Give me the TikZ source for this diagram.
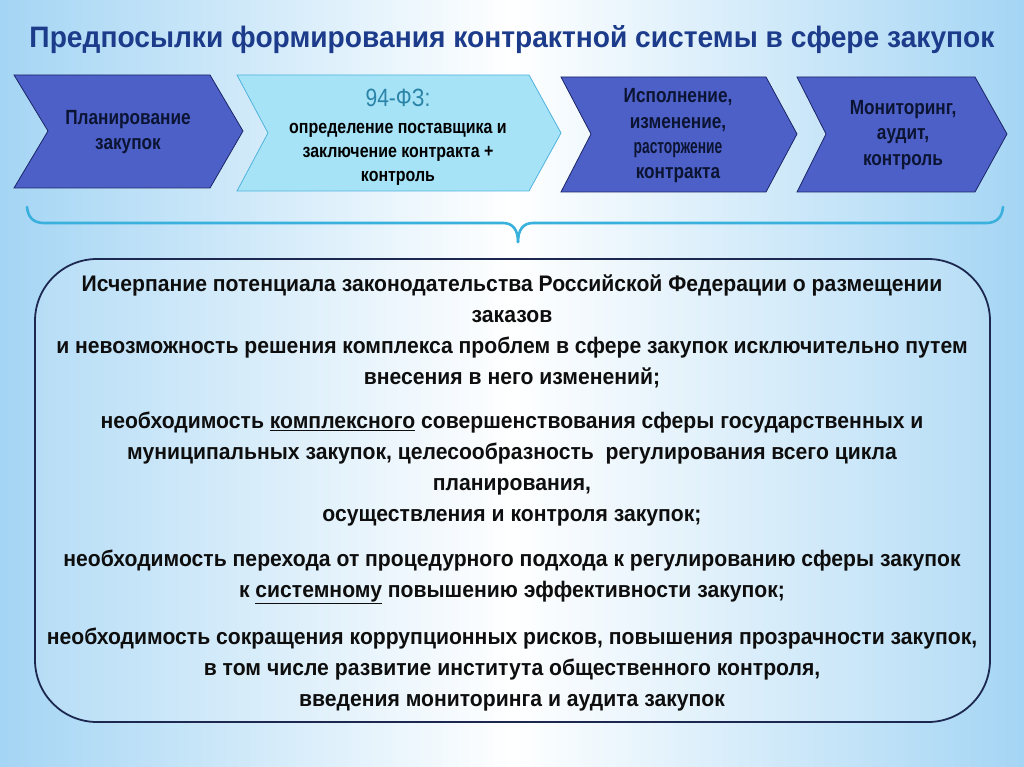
\documentclass[tikz,border=0pt]{standalone}
\usepackage{graphicx}
\usepackage{fontspec}
\setmainfont{Liberation Sans}
\newfontfamily\narrowfont{Liberation Sans}[FakeStretch=0.84]
\newfontfamily\bodyfont{Liberation Sans}[FakeStretch=0.94]
\definecolor{bgblue}{HTML}{A4D5F4}
\definecolor{titleblue}{HTML}{1C3B8B}
\definecolor{chevdark}{HTML}{4D60C7}
\definecolor{chevdarkline}{HTML}{1B2466}
\definecolor{chevlight}{HTML}{A7E3F7}
\definecolor{chevlightline}{HTML}{4FB3DD}
\definecolor{teal94}{HTML}{2A84A8}
\definecolor{navytext}{HTML}{0C1433}
\definecolor{bracecol}{HTML}{3AB0DC}
\definecolor{boxline}{HTML}{1C2850}
\definecolor{bodytext}{HTML}{0E0E0E}
\tikzset{
  darkchev/.style={fill=chevdark, draw=chevdarkline, line width=0.8pt, line join=miter},
  lightchev/.style={fill=chevlight, draw=chevlightline, line width=0.8pt, line join=miter},
  chevtext/.style={align=center, text=navytext, font=\narrowfont\bfseries\fontsize{20.5}{25.3}\selectfont, inner sep=0pt},
  lighttext/.style={align=center, text=black, font=\narrowfont\bfseries\fontsize{19}{24}\selectfont, inner sep=0pt},
  bodypara/.style={align=center, text=bodytext, font=\bodyfont\bfseries\fontsize{22.5}{31}\selectfont, inner sep=0pt},
  mainbox/.style={draw=boxline, line width=1.8pt, rounded corners=62pt, fill=white, fill opacity=0.15},
  bracepath/.style={draw=bracecol, line width=2.6pt, line cap=round, line join=round}
}
\begin{document}
\begin{tikzpicture}[x=1pt,y=-1pt]
\useasboundingbox (0,0) rectangle (1024,767);
\shade[left color=bgblue, right color=bgblue, middle color=white] (0,0) rectangle (1024,767);

% title
\node[inner sep=0pt, text=titleblue] (title) at (512,40) {\resizebox{965pt}{22pt}{\bfseries Предпосылки формирования контрактной системы в сфере закупок}};

% chevrons
\draw[darkchev] (14,75) -- (210,75) -- (243,131) -- (210,188) -- (14,188) -- (48,131) -- cycle;
\draw[lightchev] (237,75) -- (529,75) -- (561,133) -- (529,191) -- (237,191) -- (268,133) -- cycle;
\draw[darkchev] (561,77) -- (766,77) -- (797,134) -- (766,192) -- (561,192) -- (591,134) -- cycle;
\draw[darkchev] (797,77) -- (975,77) -- (1007,134) -- (975,192) -- (797,192) -- (826,134) -- cycle;

\node[chevtext] (c1) at (128,132) {Планирование\\закупок};
\node[inner sep=0pt, text=teal94, font=\narrowfont\fontsize{25}{28}\selectfont] (c2head) at (398,98) {94-ФЗ:};
\node[lighttext] (c2) at (398,154) {определение поставщика и\\заключение контракта +\\контроль};
\node[chevtext] (c3) at (678,136) {Исполнение,\\изменение,\\\scalebox{0.8}[1]{расторжение}\\контракта};
\node[chevtext] (c4) at (903,135) {Мониторинг,\\аудит,\\контроль};

% brace
\draw[bracepath] (27,207) .. controls (28,218) and (34,223) .. (44,223) -- (503,223) .. controls (513,223) and (518,230) .. (518,242);
\draw[bracepath] (1003,207) .. controls (1002,218) and (996,223) .. (986,223) -- (533,223) .. controls (523,223) and (518,230) .. (518,242);

% main box
\draw[mainbox] (35,259) rectangle (990,722);

\node[bodypara] (p1) at (512,331) {Исчерпание потенциала законодательства Российской Федерации о размещении\\заказов\\и невозможность решения комплекса проблем в сфере закупок исключительно путем\\внесения в него изменений;};
\node[bodypara] (p2) at (512,469) {необходимость \underline{комплексного} совершенствования сферы государственных и\\муниципальных закупок, целесообразность\ \ регулирования всего цикла\\планирования,\\осуществления и контроля закупок;};
\node[bodypara] (p3) at (512,577) {необходимость перехода от процедурного подхода к регулированию сферы закупок\\к \underline{системному} повышению эффективности закупок;};
\node[bodypara] (p4) at (512,670) {необходимость сокращения коррупционных рисков, повышения прозрачности закупок,\\в том числе развитие института общественного контроля,\\введения мониторинга и аудита закупок};
\end{tikzpicture}
\end{document}
